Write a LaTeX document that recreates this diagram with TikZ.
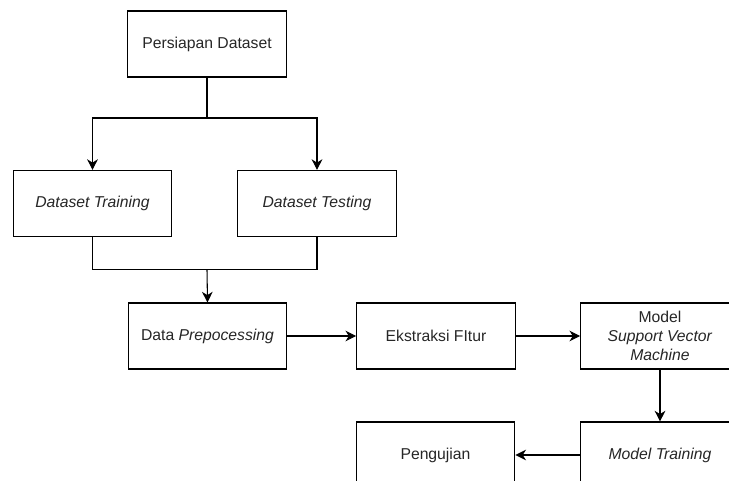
\documentclass[tikz,border=0pt]{standalone}
\usepackage{fontspec}
\setmainfont{Liberation Sans}
\usetikzlibrary{arrows.meta}
\begin{document}
\begin{tikzpicture}[x=0.75pt,y=-0.75pt,
  box/.style={draw, line width=0.8pt, minimum width=119pt, minimum height=49.5pt,
    inner sep=0pt, align=center, font=\fontsize{11.8}{14.2}\selectfont, text=black!85},
  link/.style={line width=0.8pt},
  arr/.style={link, -{Stealth[length=8pt, width=8pt, inset=2.5pt]}}]
\useasboundingbox (0,0) rectangle (729,481);
\clip (0,0) rectangle (729,481);
\node[box] (persiapan) at (207,44) {Persiapan Dataset};
\node[box] (train) at (92.5,203.5) {\textit{Dataset Training}};
\node[box] (test) at (317,203.5) {\textit{Dataset Testing}};
\node[box] (prep) at (207.5,336) {Data \textit{Prepocessing}};
\node[box] (ekstr) at (436,336) {Ekstraksi FItur};
\node[box] (svm) at (660,336) {Model\\\textit{Support Vector}\\\textit{Machine}};
\node[box] (mtrain) at (660,455) {\textit{Model Training}};
\node[box] (peng) at (435.5,455) {Pengujian};
\coordinate (split) at (207,118);
\coordinate (merge) at (207,269.5);
\draw[link] (persiapan.south) -- (split);
\draw[arr] (split) -| (train.north);
\draw[arr] (split) -| (test.north);
\draw[link] (train.south) |- (merge);
\draw[link] (test.south) |- (merge);
\draw[arr] (merge) -- (prep.north);
\draw[arr] (prep.east) -- (ekstr.west);
\draw[arr] (ekstr.east) -- (svm.west);
\draw[arr] (svm.south) -- (mtrain.north);
\draw[arr] (mtrain.west) -- (peng.east);
\end{tikzpicture}
\end{document}
